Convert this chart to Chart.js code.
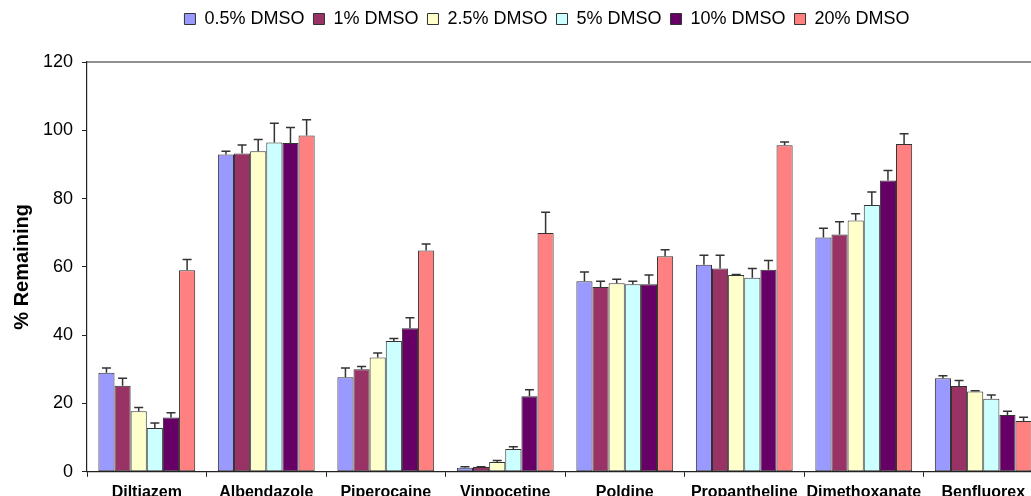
<!DOCTYPE html>
<html>
<head>
<meta charset="utf-8">
<script src="https://cdn.jsdelivr.net/npm/chart.js@4.4.1/dist/chart.umd.min.js"></script>
<style>
    html, body { margin: 0; padding: 0; background: #fff; overflow: hidden; }
    #wrap { width: 1031px; height: 496px; overflow: hidden; }
    canvas { display: block; }
</style>
</head>
<body>
<div id="wrap"><canvas id="dmsoChart" width="1060" height="508"></canvas></div>
<script>
const drugs = ['Diltiazem', 'Albendazole', 'Piperocaine', 'Vinpocetine', 'Poldine', 'Propantheline', 'Dimethoxanate', 'Benfluorex'];
const seriesLabels = ['0.5% DMSO', '1% DMSO', '2.5% DMSO', '5% DMSO', '10% DMSO', '20% DMSO'];
const seriesColors = ['#9999ff', '#993366', '#ffffcc', '#ccffff', '#660066', '#ff8080'];

// % remaining per DMSO level, one entry per drug
const dmso05 = [29.0, 92.9, 27.7, 1.2, 55.8, 60.6, 68.6, 27.4];
const dmso1 = [25.2, 93.2, 30.0, 1.4, 54.1, 59.5, 69.5, 25.1];
const dmso25 = [17.7, 93.9, 33.5, 2.9, 55.2, 57.6, 73.6, 23.5];
const dmso5 = [12.8, 96.4, 38.3, 6.7, 54.9, 56.8, 78.1, 21.4];
const dmso10 = [15.9, 96.3, 42.0, 22.1, 54.9, 59.2, 85.3, 16.6];
const dmso20 = [59.0, 98.5, 64.8, 69.9, 63.1, 95.6, 96.0, 14.9];

// upper error (SD)
const err05 = [1.4, 1.0, 2.7, 0.3, 2.7, 2.8, 2.7, 0.7];
const err1 = [2.2, 2.5, 0.8, 0.1, 1.7, 3.9, 3.7, 1.6];
const err25 = [1.1, 3.4, 1.3, 0.4, 1.2, 0.2, 2.0, 0.2];
const err5 = [1.5, 5.7, 0.7, 0.6, 0.9, 2.7, 3.8, 1.1];
const err10 = [1.4, 4.5, 3.1, 1.9, 2.7, 2.7, 2.9, 1.1];
const err20 = [3.2, 4.6, 1.9, 6.1, 1.9, 1.0, 3.0, 1.1];

const yTicks = [0, 20, 40, 60, 80, 100, 120];

const seriesValues = [dmso05, dmso1, dmso25, dmso5, dmso10, dmso20];
const seriesErrors = [err05, err1, err25, err5, err10, err20];

const ink = '#222';
const fontFamily = 'Liberation Sans, Arial, sans-serif';

// upward-only error bars with a small cap
const errorBars = {
    id: 'errorBars',
    afterDatasetsDraw(chart) {
        const ctx = chart.ctx;
        const y = chart.scales.y;
        ctx.save();
        ctx.strokeStyle = '#333';
        ctx.lineWidth = 1.5;
        chart.data.datasets.forEach((ds, i) => {
            const meta = chart.getDatasetMeta(i);
            meta.data.forEach((bar, j) => {
                const top = y.getPixelForValue(ds.data[j] + ds.errors[j]);
                ctx.beginPath();
                ctx.moveTo(bar.x, bar.y);
                ctx.lineTo(bar.x, top);
                ctx.moveTo(bar.x - 4.5, top);
                ctx.lineTo(bar.x + 4.5, top);
                ctx.stroke();
            });
        });
        ctx.restore();
    }
};

// top edge of the plot frame
const plotFrame = {
    id: 'plotFrame',
    afterDraw(chart) {
        const { ctx, chartArea } = chart;
        ctx.save();
        ctx.strokeStyle = ink;
        ctx.lineWidth = 1.2;
        ctx.beginPath();
        ctx.moveTo(chartArea.left, chartArea.top);
        ctx.lineTo(chartArea.right, chartArea.top);
        ctx.stroke();
        ctx.restore();
    }
};

// move the legend up and right of its default slot
const legendOffset = { x: 25, y: -24 };
const legendShift = {
    id: 'legendShift',
    afterLayout(chart) {
        const l = chart.legend;
        l.left += legendOffset.x;
        l.right += legendOffset.x;
        l.top += legendOffset.y;
        l.bottom += legendOffset.y;
        if (l.legendHitBoxes) {
            l.legendHitBoxes.forEach(b => { b.left += legendOffset.x; b.top += legendOffset.y; });
        }
    }
};

const datasets = seriesLabels.map((label, i) => ({
    label: label,
    data: seriesValues[i],
    errors: seriesErrors[i],
    backgroundColor: seriesColors[i],
    borderColor: '#333',
    borderWidth: 1,
    borderSkipped: false,
    categoryPercentage: 0.81,
    barPercentage: 1.0
}));

new Chart(document.getElementById('dmsoChart').getContext('2d'), {
    type: 'bar',
    data: { labels: drugs, datasets: datasets },
    options: {
        responsive: false,
        animation: false,
        layout: { padding: { left: 1, right: 17, top: 25, bottom: 0 } },
        plugins: {
            tooltip: { enabled: false },
            legend: {
                position: 'top',
                labels: {
                    color: '#000',
                    font: { family: fontFamily, size: 18 },
                    boxWidth: 11,
                    boxHeight: 11,
                    padding: 9,
                    generateLabels(chart) {
                        return chart.data.datasets.map((ds, i) => ({
                            text: ds.label,
                            fillStyle: ds.backgroundColor,
                            strokeStyle: '#333',
                            lineWidth: 1,
                            datasetIndex: i,
                            hidden: false
                        }));
                    }
                }
            }
        },
        scales: {
            x: {
                border: { color: ink, width: 1.2 },
                grid: { drawOnChartArea: false, drawTicks: true, tickLength: 5, color: ink },
                ticks: {
                    color: '#000',
                    padding: 6,
                    maxRotation: 0,
                    font: { family: fontFamily, size: 16, weight: 'bold' }
                }
            },
            y: {
                min: 0,
                max: 120,
                afterBuildTicks(axis) { axis.ticks = yTicks.map(v => ({ value: v })); },
                border: { color: ink, width: 1.2 },
                grid: { drawOnChartArea: false, drawTicks: true, tickLength: 5, color: ink },
                ticks: {
                    color: '#000',
                    padding: 9,
                    font: { family: fontFamily, size: 18 }
                },
                title: {
                    display: true,
                    text: '% Remaining',
                    color: '#000',
                    padding: { top: 9, bottom: 0 },
                    font: { family: fontFamily, size: 20, weight: 'bold' }
                }
            }
        }
    },
    plugins: [errorBars, plotFrame, legendShift]
});
</script>
</body>
</html>
